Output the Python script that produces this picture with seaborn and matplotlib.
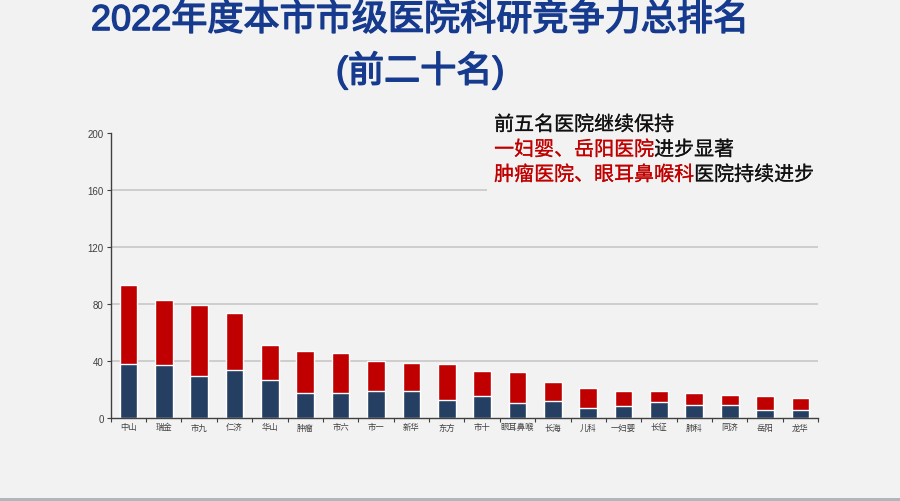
import matplotlib
matplotlib.use("Agg")
import matplotlib.pyplot as plt
import matplotlib.patheffects as pe
from matplotlib.patches import Rectangle
from matplotlib.text import Annotation
from matplotlib.ticker import FixedLocator
import seaborn as sns
import numpy as np
import pandas as pd

# Hospitals ranked by overall research competitiveness, 2022
hospitals = ["中山", "瑞金", "市九", "仁济", "华山", "肿瘤", "市六", "市一", "新华", "东方",
             "市十", "眼耳鼻喉", "长海", "儿科", "一妇婴", "长征", "肺科", "同济", "岳阳", "龙华"]
# lower (navy) and upper (red) score components
base_scores = [37.9, 37.4, 29.7, 33.6, 26.6, 17.8, 17.8, 19.2, 19.2, 12.6,
               15.5, 10.8, 12.2, 7.0, 8.4, 11.2, 9.6, 9.6, 5.6, 5.6]
upper_scores = [55.6, 45.3, 49.7, 40.2, 24.8, 29.6, 28.0, 21.0, 19.8, 25.7,
                17.9, 21.5, 13.1, 14.1, 10.5, 7.7, 8.2, 6.8, 9.8, 8.4]
y_ticks = [0, 40, 80, 120, 160, 200]

title_line1 = "2022年度本市市级医院科研竞争力总排名"
title_line2 = "(前二十名)"
notes = [
    [("前五名医院继续保持", "#111111")],
    [("一妇婴、岳阳医院", "#c00000"), ("进步显著", "#111111")],
    [("肿瘤医院、眼耳鼻喉科", "#c00000"), ("医院持续进步", "#111111")],
]

BG = "#f2f2f2"
RED = "#c00000"
NAVY = "#243f62"
AXIS = "#404040"
TITLE = "#153a8e"

sns.set_theme(style="white")
plt.rcParams["font.family"] = ["Noto Sans CJK SC", "DejaVu Sans"]

df = pd.DataFrame({"hospital": hospitals, "base": base_scores, "upper": upper_scores})
df["total"] = df["base"] + df["upper"]

fig = plt.figure(figsize=(9, 5.02), dpi=100, facecolor=BG)
ax = fig.add_axes([0.123, 0.1647, 0.786, 0.5683])
ax.set_facecolor(BG)

sns.barplot(data=df, x="hospital", y="total", color=RED, width=0.5,
            saturation=1, ax=ax, zorder=3)
sns.barplot(data=df, x="hospital", y="base", color=NAVY, width=0.5,
            saturation=1, ax=ax, zorder=4)

ax.set_xlim(-0.5, len(hospitals) - 0.5)
ax.set_ylim(0, 200)
ax.set_yticks(y_ticks)
ax.set_xlabel("")
ax.set_ylabel("")

for v in y_ticks[1:-1]:
    ax.axhline(v, color="#cdcdcd", lw=1.4, zorder=1)

for side in ("top", "right"):
    ax.spines[side].set_visible(False)
for side in ("left", "bottom"):
    ax.spines[side].set_color(AXIS)
    ax.spines[side].set_linewidth(1.0)
    ax.spines[side].set_zorder(5)

ax.tick_params(axis="y", which="major", length=3, width=0.8, color=AXIS,
               labelsize=7, labelcolor=AXIS, pad=2, left=True)
ax.tick_params(axis="x", which="major", length=0, labelsize=6, labelcolor=AXIS, pad=3)
ax.xaxis.set_minor_locator(FixedLocator(np.arange(-0.5, len(hospitals), 1.0)))
ax.tick_params(axis="x", which="minor", length=3, width=0.8, color=AXIS,
               bottom=True, direction="out")
for lbl in ax.get_yticklabels():
    lbl.set_family(["Liberation Sans", "DejaVu Sans"])

# titles: regular weight thickened slightly
title_font = ["Liberation Sans", "Noto Sans CJK SC"]
title_fx = [pe.withStroke(linewidth=1.0, foreground=TITLE)]
fig.text(0.467, 0.957, title_line1, ha="center", va="center", fontsize=26,
         color=TITLE, family=title_font, path_effects=title_fx)
fig.text(0.467, 0.857, title_line2, ha="center", va="center", fontsize=26,
         color=TITLE, family=title_font, path_effects=title_fx)

# note block with its own backing panel
fig.patches.append(Rectangle((0.541, 0.605), 0.37, 0.18, transform=fig.transFigure,
                             facecolor=BG, edgecolor="none", zorder=1))
line_y = [1 - 126 / 502, 1 - 151 / 502, 1 - 176 / 502]
for y, segments in zip(line_y, notes):
    prev = None
    for text, color in segments:
        heavier = [pe.withStroke(linewidth=0.15, foreground=color)]
        if prev is None:
            prev = fig.text(0.549, y, text, ha="left", va="center", fontsize=14.4,
                            color=color, zorder=2, path_effects=heavier)
        else:
            nxt = Annotation(text, xy=(1, 0), xycoords=prev, ha="left", va="bottom",
                             fontsize=14.4, color=color, annotation_clip=False,
                             zorder=2, path_effects=heavier)
            fig.add_artist(nxt)
            prev = nxt

# bottom edge strip
fig.patches.append(Rectangle((0, 0), 1, 3 / 502, transform=fig.transFigure,
                             facecolor="#b1b5bc", edgecolor="none", zorder=1))

fig.savefig("out.png", dpi=100, facecolor=BG)
